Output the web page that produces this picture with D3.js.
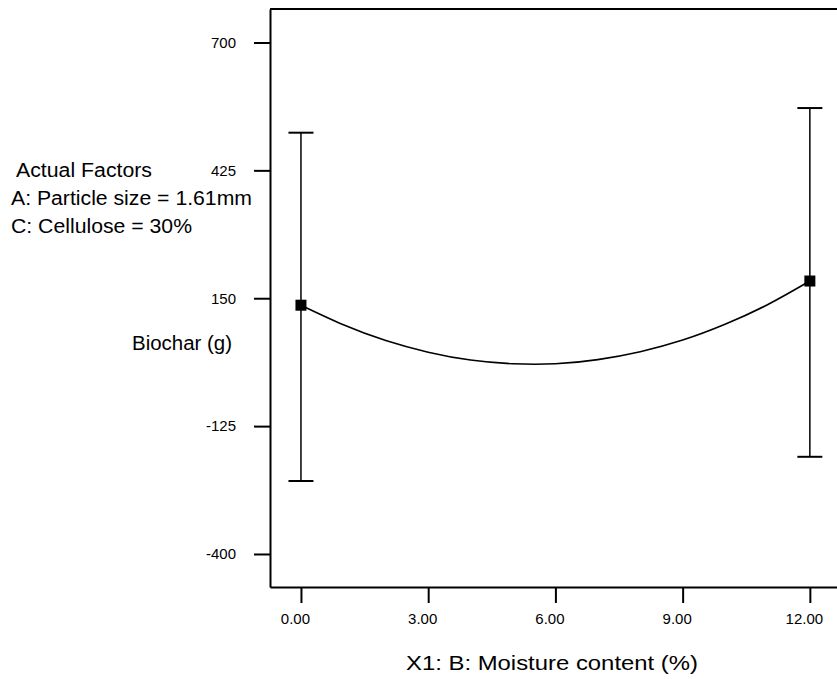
<!DOCTYPE html>
<html>
<head>
<meta charset="utf-8">
<script src="https://cdn.jsdelivr.net/npm/d3@7"></script>
<style>
  html, body { margin: 0; padding: 0; background: #fff; }
  svg { display: block; font-family: "Liberation Sans", Arial, sans-serif; }
</style>
</head>
<body>
<svg id="chart" width="837" height="679"></svg>
<script>
// ---- data ----
const xTicks = [0, 3, 6, 9, 12];
const yTicks = [700, 425, 150, -125, -400];
const curveX = [0, 1, 2, 3, 4, 5, 6, 7, 8, 9, 10, 11, 12];
const curveY = [135, 93, 59, 34, 17, 9, 9, 18, 35, 60, 94, 136, 187];
const pointX = [0, 12];
const pointY = [135, 187];
const ciLow = [-243, -191];
const ciHigh = [506, 559];
const factorLines = ["Actual Factors", "A: Particle size = 1.61mm", "C: Cellulose = 30%"];
const yLabel = "Biochar (g)";
const xLabel = "X1: B: Moisture content (%)";
const xDomain = [-0.73, 12.64];
const yDomain = [-471, 772];

(function () {
// ---- layout ----
const svg = d3.select("#chart");
const mLeft = 270, mRight = 837, mTop = 9, mBottom = 587;
const x = d3.scaleLinear().domain(xDomain).range([mLeft, mRight]);
const y = d3.scaleLinear().domain(yDomain).range([mBottom, mTop]);
const FONT = "Liberation Sans, Arial, sans-serif";

// top border
svg.append("line")
  .attr("x1", mLeft).attr("x2", mRight + 2).attr("y1", mTop).attr("y2", mTop)
  .attr("stroke", "#000").attr("stroke-width", 2);

// y axis
const gy = svg.append("g").attr("transform", `translate(${mLeft},0)`)
  .call(d3.axisLeft(y).tickValues(yTicks).tickSize(16).tickSizeOuter(0).tickPadding(18).tickFormat(d => String(d)));
gy.select(".domain").attr("stroke-width", 2);
gy.selectAll(".tick line").attr("stroke-width", 2);
gy.selectAll(".tick text").attr("font-size", 15).attr("font-family", FONT).attr("fill", "#000");

// x axis
const gx = svg.append("g").attr("transform", `translate(0,${mBottom})`)
  .call(d3.axisBottom(x).tickValues(xTicks).tickSize(16).tickSizeOuter(0).tickPadding(10).tickFormat(d3.format(".2f")));
gx.select(".domain").attr("stroke-width", 2);
gx.selectAll(".tick line").attr("stroke-width", 2);
gx.selectAll(".tick text").attr("font-size", 15).attr("font-family", FONT).attr("fill", "#000").attr("dx", -6);

// error bars
const capHalf = 12.5;
pointX.forEach((px, i) => {
  const g = svg.append("g");
  g.append("line").attr("x1", x(px)).attr("x2", x(px))
    .attr("y1", y(ciLow[i])).attr("y2", y(ciHigh[i]))
    .attr("stroke", "#000").attr("stroke-width", 1.5);
  [ciLow[i], ciHigh[i]].forEach(v => {
    g.append("line").attr("x1", x(px) - capHalf).attr("x2", x(px) + capHalf)
      .attr("y1", y(v)).attr("y2", y(v))
      .attr("stroke", "#000").attr("stroke-width", 2);
  });
});

// curve
const line = d3.line().x((d, i) => x(curveX[i])).y(d => y(d)).curve(d3.curveNatural);
svg.append("path").datum(curveY)
  .attr("d", line).attr("fill", "none").attr("stroke", "#000").attr("stroke-width", 1.6);

// points
const sz = 11;
svg.selectAll("rect.pt").data(pointY).enter().append("rect")
  .attr("class", "pt")
  .attr("x", (d, i) => x(pointX[i]) - sz / 2)
  .attr("y", d => y(d) - sz / 2)
  .attr("width", sz).attr("height", sz).attr("fill", "#000");

// factor annotations
const fx = [16, 11, 11];
const fy = [177, 205, 233];
const fw = [136, 241, 181];
factorLines.forEach((t, i) => {
  svg.append("text").attr("x", fx[i]).attr("y", fy[i])
    .attr("font-size", 20).attr("fill", "#000")
    .attr("textLength", fw[i]).attr("lengthAdjust", "spacingAndGlyphs").text(t);
});

// y label
svg.append("text").attr("x", 132).attr("y", 350)
  .attr("font-size", 20).attr("fill", "#000")
  .attr("textLength", 100).attr("lengthAdjust", "spacingAndGlyphs").text(yLabel);

// x label
svg.append("text").attr("x", 406).attr("y", 670)
  .attr("font-size", 21).attr("fill", "#000")
  .attr("textLength", 292).attr("lengthAdjust", "spacingAndGlyphs").text(xLabel);
})();
</script>
</body>
</html>
